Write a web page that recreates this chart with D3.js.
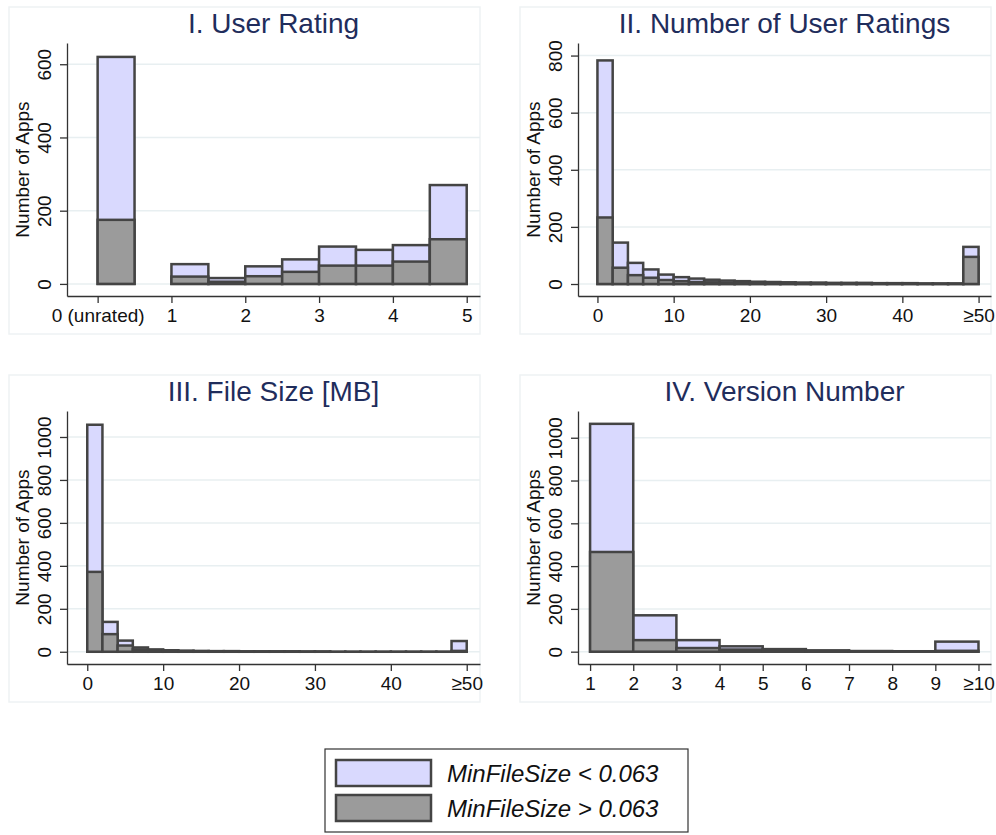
<!DOCTYPE html>
<html>
<head>
<meta charset="utf-8">
<script src="https://cdn.jsdelivr.net/npm/d3@7"></script>
<style>
body { margin: 0; background: #fff; }
svg { display: block; }
</style>
</head>
<body>
<div id="chart"></div>
<script>
// I. user rating, bins of 0.5 (first bin = unrated)
var ratingStarts = [0, 1, 1.5, 2, 2.5, 3, 3.5, 4, 4.5];
var ratingLight = [620, 54, 16, 48, 67, 102, 93, 106, 270];
var ratingDark = [175, 20, 6, 21, 33, 50, 50, 61, 122];
var ratingTicks = [0, 1, 2, 3, 4, 5];
var ratingTickLabels = ["0 (unrated)", "1", "2", "3", "4", "5"];

// II. number of user ratings, bins of 2, last bin is >=50
var countStarts = [0, 2, 4, 6, 8, 10, 12, 14, 16, 18, 20, 22, 24, 26, 28, 30, 32, 34, 36, 38, 40, 42, 44, 46, 48];
var countLight = [783, 145, 74, 51, 33, 24, 19, 15, 12, 10, 8, 7, 6, 5, 5, 4, 4, 4, 3, 3, 3, 2, 2, 2, 130];
var countDark = [233, 57, 31, 22, 14, 10, 7, 6, 5, 4, 4, 3, 3, 3, 2, 2, 2, 2, 2, 1, 1, 1, 1, 1, 95];
var countTicks = [0, 10, 20, 30, 40, 50];
var countTickLabels = ["0", "10", "20", "30", "40", "\u226550"];

// III. file size, bins of 2 MB, last bin is >=50
var sizeStarts = countStarts;
var sizeLight = [1057, 139, 52, 20, 11, 7, 5, 4, 3, 3, 2, 2, 2, 2, 1, 1, 1, 1, 1, 1, 1, 1, 1, 1, 50];
var sizeDark = [372, 82, 29, 11, 6, 4, 3, 2, 2, 1, 1, 1, 1, 1, 1, 1, 0, 0, 0, 0, 0, 0, 0, 0, 4];
var sizeTicks = [0, 10, 20, 30, 40, 50];
var sizeTickLabels = ["0", "10", "20", "30", "40", "\u226550"];

// IV. version number, bins of 1, last bin is >=10
var versionStarts = [1, 2, 3, 4, 5, 6, 7, 8, 9];
var versionLight = [1065, 170, 54, 25, 12, 6, 3, 2, 47];
var versionDark = [466, 54, 17, 10, 7, 4, 2, 1, 4];
var versionTicks = [1, 2, 3, 4, 5, 6, 7, 8, 9, 10];
var versionTickLabels = ["1", "2", "3", "4", "5", "6", "7", "8", "9", "\u226510"];

var legendLabels = ["MinFileSize < 0.063", "MinFileSize > 0.063"];

var FONT = "'Liberation Sans', Arial, Helvetica, sans-serif";
var LIGHT = "#d9d9fe", DARK = "#9b9b9b", EDGE = "#444444";

var panels = [
    {title: "I. User Rating", ox: 9, oy: 7, starts: ratingStarts, bw: 0.5, light: ratingLight, dark: ratingDark,
     xDomain: [-0.415, 5.18], yDomain: [-33, 658], xTicks: ratingTicks, xLabels: ratingTickLabels, yTicks: [0, 200, 400, 600]},
    {title: "II. Number of User Ratings", ox: 520, oy: 7, starts: countStarts, bw: 2, light: countLight, dark: countDark,
     xDomain: [-2.55, 51.63], yDomain: [-42, 844], xTicks: countTicks, xLabels: countTickLabels, yTicks: [0, 200, 400, 600, 800]},
    {title: "III. File Size [MB]", ox: 9, oy: 375, starts: sizeStarts, bw: 2, light: sizeLight, dark: sizeDark,
     xDomain: [-2.67, 51.75], yDomain: [-57, 1121], xTicks: sizeTicks, xLabels: sizeTickLabels, yTicks: [0, 200, 400, 600, 800, 1000]},
    {title: "IV. Version Number", ox: 520, oy: 375, starts: versionStarts, bw: 1, light: versionLight, dark: versionDark,
     xDomain: [0.72, 10.29], yDomain: [-57.6, 1125], xTicks: versionTicks, xLabels: versionTickLabels, yTicks: [0, 200, 400, 600, 800, 1000]}
];

var svg = d3.select("#chart").append("svg")
    .attr("width", 996)
    .attr("height", 835);

// plot box inside each panel
var pw = 471, ph = 327;
var plotLeft = 58, plotRight = 471, plotTop = 36, plotBottom = 289;

panels.forEach(function(p) { draw_panel(p); });
draw_legend();

function draw_panel(p) {

    let g = svg.append("g").attr("transform", "translate(" + p.ox + "," + p.oy + ")");

    g.append("rect")
        .attr("x", 0).attr("y", 0)
        .attr("width", pw).attr("height", ph)
        .attr("fill", "none")
        .attr("stroke", "#eef2f4")
        .attr("stroke-width", 1.5);

    let x = d3.scaleLinear().domain(p.xDomain).range([plotLeft, plotRight]);
    let y = d3.scaleLinear().domain(p.yDomain).range([plotBottom, plotTop]);

    g.selectAll(".grid").data(p.yTicks).enter().append("line")
        .attr("x1", plotLeft).attr("x2", plotRight)
        .attr("y1", d => y(d)).attr("y2", d => y(d))
        .attr("stroke", "#e8eff1")
        .attr("stroke-width", 1.5);

    let bins = p.starts.map(function(s, i) {
        return {x0: s, x1: s + p.bw, light: p.light[i], dark: p.dark[i]};
    });

    g.selectAll(".light").data(bins).enter().append("rect")
        .attr("x", d => x(d.x0))
        .attr("y", d => y(d.light))
        .attr("width", d => x(d.x1) - x(d.x0))
        .attr("height", d => y(0) - y(d.light))
        .attr("fill", LIGHT)
        .attr("stroke", EDGE)
        .attr("stroke-width", 2.5);

    g.selectAll(".dark").data(bins).enter().append("rect")
        .attr("x", d => x(d.x0))
        .attr("y", d => y(d.dark))
        .attr("width", d => x(d.x1) - x(d.x0))
        .attr("height", d => y(0) - y(d.dark))
        .attr("fill", DARK)
        .attr("stroke", EDGE)
        .attr("stroke-width", 2.5);

    let xAxis = g.append("g")
        .attr("transform", "translate(0," + plotBottom + ")")
        .call(d3.axisBottom(x)
            .tickValues(p.xTicks)
            .tickFormat((d, i) => p.xLabels[i])
            .tickSize(7)
            .tickSizeOuter(0)
            .tickPadding(6));

    let yAxis = g.append("g")
        .attr("transform", "translate(" + plotLeft + ",0)")
        .call(d3.axisLeft(y)
            .tickValues(p.yTicks)
            .tickFormat(d3.format("d"))
            .tickSize(7)
            .tickSizeOuter(0));

    [xAxis, yAxis].forEach(function(a) {
        a.attr("font-family", FONT).attr("font-size", 19);
        a.selectAll("path, line").attr("stroke", "#333").attr("stroke-width", 1.3);
        a.selectAll("text").attr("fill", "#111");
    });

    yAxis.selectAll(".tick text")
        .attr("x", 0).attr("y", 0).attr("dy", 0)
        .attr("text-anchor", "middle")
        .attr("transform", "translate(-16,0) rotate(-90)");

    g.append("text")
        .attr("transform", "translate(" + (plotLeft - 38) + "," + ((plotTop + plotBottom) / 2) + ") rotate(-90)")
        .attr("text-anchor", "middle")
        .attr("font-family", FONT)
        .attr("font-size", 19)
        .attr("fill", "#111")
        .text("Number of Apps");

    g.append("text")
        .attr("x", (plotLeft + plotRight) / 2)
        .attr("y", 26)
        .attr("text-anchor", "middle")
        .attr("font-family", FONT)
        .attr("font-size", 28)
        .attr("fill", "#1f2d5c")
        .text(p.title);
}

function draw_legend() {

    let lg = svg.append("g").attr("transform", "translate(325,749)");

    lg.append("rect")
        .attr("width", 363).attr("height", 83)
        .attr("fill", "#fff")
        .attr("stroke", "#333")
        .attr("stroke-width", 1.2);

    let fills = [LIGHT, DARK];
    legendLabels.forEach(function(label, i) {
        lg.append("rect")
            .attr("x", 11).attr("y", 11 + i * 35)
            .attr("width", 95).attr("height", 26)
            .attr("fill", fills[i])
            .attr("stroke", EDGE)
            .attr("stroke-width", 2.5);
        lg.append("text")
            .attr("x", 122).attr("y", 33 + i * 35)
            .attr("font-family", FONT)
            .attr("font-style", "italic")
            .attr("font-size", 24)
            .attr("fill", "#111")
            .text(label);
    });
}
</script>
</body>
</html>
